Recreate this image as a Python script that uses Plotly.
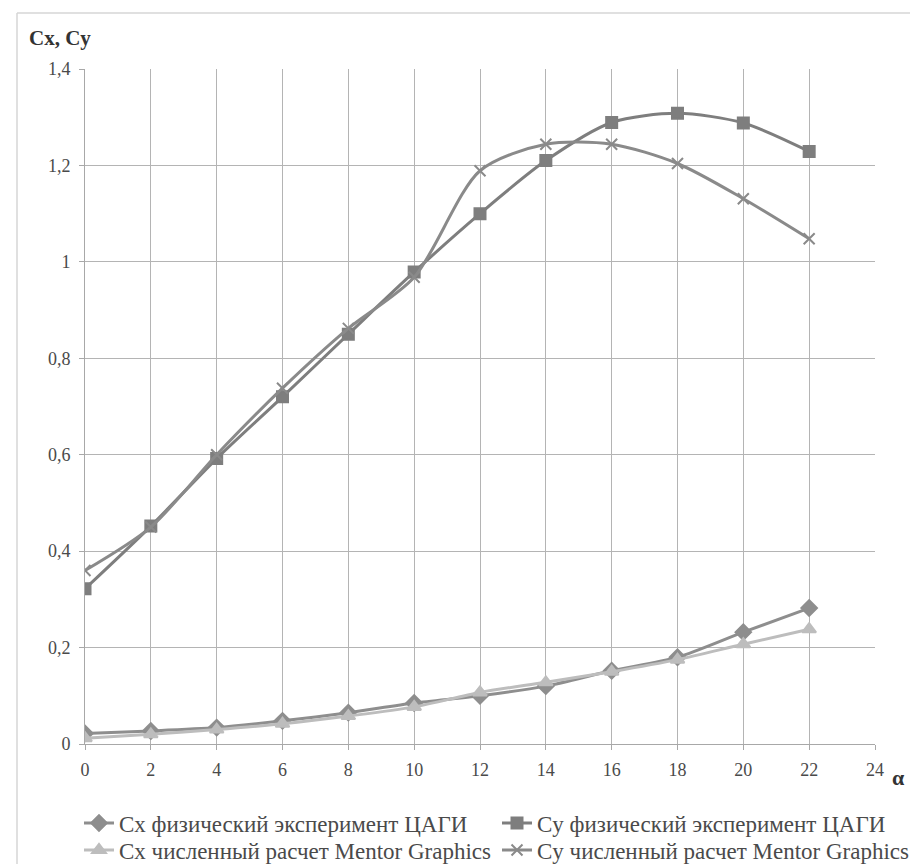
import plotly.graph_objects as go

alpha = [0, 2, 4, 6, 8, 10, 12, 14, 16, 18, 20, 22]
cx_exp = [0.022, 0.027, 0.034, 0.048, 0.065, 0.085, 0.100, 0.120, 0.152, 0.180, 0.232, 0.282]
cy_exp = [0.322, 0.452, 0.592, 0.720, 0.850, 0.979, 1.100, 1.210, 1.289, 1.308, 1.288, 1.229]
cx_num = [0.012, 0.020, 0.030, 0.042, 0.058, 0.077, 0.107, 0.128, 0.150, 0.175, 0.207, 0.238]
cy_num = [0.360, 0.450, 0.600, 0.738, 0.862, 0.968, 1.189, 1.244, 1.244, 1.204, 1.131, 1.048]

names = ["Cx физический эксперимент ЦАГИ", "Cy физический эксперимент ЦАГИ",
         "Cx численный расчет Mentor Graphics", "Cy численный расчет Mentor Graphics"]

y_ticks = [0, 0.2, 0.4, 0.6, 0.8, 1.0, 1.2, 1.4]
y_ticktext = ["0", "0,2", "0,4", "0,6", "0,8", "1", "1,2", "1,4"]
x_ticks = [0, 2, 4, 6, 8, 10, 12, 14, 16, 18, 20, 22, 24]

FONT = "Liberation Serif, Times New Roman, serif"

OFF = 0  # body margin removed by post_script
W, H = 910, 864
L, R, T, B = 85 - OFF, 875 - OFF, 69 - OFF, 744 - OFF
PW, PH = R - L, B - T

def px(x):  # window pixel -> paper
    return (x - OFF - L) / PW

def py(y):
    return (B - (y - OFF)) / PH

fig = go.Figure()
specs = [
    (cx_exp, names[0], "#8e8e8e", "diamond", 12, "legend"),
    (cy_exp, names[1], "#7e7e7e", "square", 11, "legend2"),
    (cx_num, names[2], "#bdbdbd", "triangle-up", 12, "legend3"),
    (cy_num, names[3], "#8a8a8a", "x-thin", 11, "legend4"),
]
for ys, nm, col, sym, sz, lg in specs:
    fig.add_trace(go.Scatter(
        x=alpha, y=ys, name=nm, mode="lines+markers", legend=lg,
        line=dict(color=col, width=3, shape="spline", smoothing=0.8),
        marker=dict(symbol=sym, size=sz, color=col, line=dict(color=col, width=2)),
    ))

legfont = dict(family=FONT, size=23, color="#4a4a4a")
col_x = [px(79), px(497)]
row_y = [py(823), py(850)]

def leg(xi, yi):
    return dict(orientation="v", x=col_x[xi], y=row_y[yi], xanchor="left", yanchor="middle",
                font=legfont, itemwidth=30, tracegroupgap=0, bgcolor="rgba(0,0,0,0)")

fig.update_layout(
    width=W, height=H,
    margin=dict(l=L, r=W - R, t=T, b=H - B, autoexpand=False),
    paper_bgcolor="white", plot_bgcolor="white",
    font=dict(family=FONT, color="#4a4a4a", size=17),
    showlegend=True,
    legend=leg(0, 0), legend2=leg(1, 0), legend3=leg(0, 1), legend4=leg(1, 1),
)
fig.update_xaxes(range=[0, 24], tickvals=x_ticks, showgrid=True, gridcolor="#b4b4b4", gridwidth=1,
                 showline=True, linecolor="#a8a8a8", linewidth=1, zeroline=False,
                 ticks="outside", ticklen=5, tickcolor="#a8a8a8", ticklabelstandoff=4,
                 tickfont=dict(family=FONT, size=18, color="#4a4a4a"), fixedrange=True)
fig.update_yaxes(range=[0, 1.4], tickvals=y_ticks, ticktext=y_ticktext, showgrid=True,
                 gridcolor="#b4b4b4", gridwidth=1, showline=True, linecolor="#a8a8a8", linewidth=1,
                 zeroline=False, ticks="outside", ticklen=5, tickcolor="#a8a8a8", ticklabelstandoff=5,
                 tickfont=dict(family=FONT, size=18, color="#4a4a4a"), fixedrange=True)

# outer frame (left and top edges)
fig.add_shape(type="line", xref="paper", yref="paper",
              x0=px(17), x1=px(17), y0=py(864), y1=py(13),
              line=dict(color="#d6d6d6", width=1.5), layer="below")
fig.add_shape(type="line", xref="paper", yref="paper",
              x0=px(17), x1=px(910), y0=py(13), y1=py(13),
              line=dict(color="#d6d6d6", width=1.5), layer="below")

fig.add_annotation(text="<b>Cx, Cy</b>", xref="paper", yref="paper",
                   x=px(27), y=py(38), xanchor="left", yanchor="middle",
                   showarrow=False, font=dict(family=FONT, size=21, color="#333333"))
fig.add_annotation(text="<b>α</b>", xref="paper", yref="paper",
                   x=px(890), y=py(777), xanchor="left", yanchor="middle",
                   showarrow=False, font=dict(family=FONT, size=22, color="#333333"))

fig.write_html("out.html", config={"displayModeBar": False},
               post_script="document.body.style.margin='0';document.body.style.overflow='hidden';")
